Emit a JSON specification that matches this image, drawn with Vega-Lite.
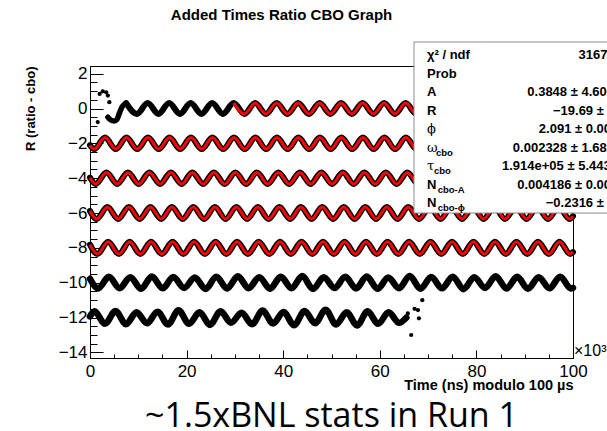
{
  "$schema": "https://vega.github.io/schema/vega-lite/v6.json",
  "width": 483,
  "height": 292,
  "autosize": "none",
  "padding": {"left": 90, "top": 66, "right": 34, "bottom": 73},
  "background": "white",
  "config": {
    "font": "Liberation Sans",
    "view": {"stroke": "black", "strokeWidth": 1},
    "axis": {"grid": false, "domainColor": "black", "tickColor": "black", "labelColor": "black", "titleColor": "black", "labelFont": "Liberation Sans", "titleFont": "Liberation Sans", "labelFontSize": 17, "domainWidth": 1, "tickWidth": 1}
  },
  "title": {"text": "Added Times Ratio CBO Graph", "font": "Liberation Sans", "fontSize": 15, "fontWeight": "bold", "color": "black", "anchor": "middle", "frame": "group", "baseline": "alphabetic", "offset": 7, "dx": -50},
  "datasets": {
    "fit": [
      {"s": "r0", "x": 7.49, "y": 0.31}, {"s": "r0", "x": 9.72, "y": -0.31}, {"s": "r0", "x": 11.94, "y": 0.31}, {"s": "r0", "x": 14.17, "y": -0.31},
      {"s": "r0", "x": 16.39, "y": 0.31}, {"s": "r0", "x": 18.62, "y": -0.31}, {"s": "r0", "x": 20.84, "y": 0.31}, {"s": "r0", "x": 23.07, "y": -0.31},
      {"s": "r0", "x": 25.29, "y": 0.31}, {"s": "r0", "x": 27.52, "y": -0.31}, {"s": "r0", "x": 29.74, "y": 0.31}, {"s": "r0", "x": 31.97, "y": -0.31},
      {"s": "r0", "x": 34.19, "y": 0.31}, {"s": "r0", "x": 36.42, "y": -0.31}, {"s": "r0", "x": 38.64, "y": 0.31}, {"s": "r0", "x": 40.87, "y": -0.31},
      {"s": "r0", "x": 43.09, "y": 0.31}, {"s": "r0", "x": 45.32, "y": -0.31}, {"s": "r0", "x": 47.54, "y": 0.31}, {"s": "r0", "x": 49.77, "y": -0.31},
      {"s": "r0", "x": 51.99, "y": 0.31}, {"s": "r0", "x": 54.22, "y": -0.31}, {"s": "r0", "x": 56.44, "y": 0.31}, {"s": "r0", "x": 58.67, "y": -0.31},
      {"s": "r0", "x": 60.89, "y": 0.31}, {"s": "r0", "x": 63.12, "y": -0.31}, {"s": "r0", "x": 65.34, "y": 0.31}, {"s": "r0", "x": 67.57, "y": -0.31},
      {"s": "r0", "x": 69.79, "y": 0.31}, {"s": "r0", "x": 72.02, "y": -0.31}, {"s": "r0", "x": 74.24, "y": 0.31}, {"s": "r0", "x": 76.47, "y": -0.31},
      {"s": "r0", "x": 78.69, "y": 0.31}, {"s": "r0", "x": 80.92, "y": -0.31}, {"s": "r0", "x": 83.14, "y": 0.31}, {"s": "r0", "x": 85.37, "y": -0.31},
      {"s": "r0", "x": 87.59, "y": 0.31}, {"s": "r0", "x": 89.82, "y": -0.31}, {"s": "r0", "x": 92.04, "y": 0.31}, {"s": "r0", "x": 94.27, "y": -0.31},
      {"s": "r0", "x": 96.49, "y": 0.31}, {"s": "r0", "x": 98.72, "y": -0.31}, {"s": "r0", "x": 100, "y": 0.07},

      {"s": "r2", "x": 0, "y": -2.11}, {"s": "r2", "x": 0.88, "y": -2.33}, {"s": "r2", "x": 3.1, "y": -1.67}, {"s": "r2", "x": 5.33, "y": -2.33},
      {"s": "r2", "x": 7.55, "y": -1.67}, {"s": "r2", "x": 9.78, "y": -2.33}, {"s": "r2", "x": 12.0, "y": -1.67}, {"s": "r2", "x": 14.23, "y": -2.33},
      {"s": "r2", "x": 16.45, "y": -1.67}, {"s": "r2", "x": 18.68, "y": -2.33}, {"s": "r2", "x": 20.9, "y": -1.67}, {"s": "r2", "x": 23.13, "y": -2.33},
      {"s": "r2", "x": 25.35, "y": -1.67}, {"s": "r2", "x": 27.58, "y": -2.33}, {"s": "r2", "x": 29.8, "y": -1.67}, {"s": "r2", "x": 32.03, "y": -2.33},
      {"s": "r2", "x": 34.25, "y": -1.67}, {"s": "r2", "x": 36.48, "y": -2.33}, {"s": "r2", "x": 38.7, "y": -1.67}, {"s": "r2", "x": 40.93, "y": -2.33},
      {"s": "r2", "x": 43.15, "y": -1.67}, {"s": "r2", "x": 45.38, "y": -2.33}, {"s": "r2", "x": 47.6, "y": -1.67}, {"s": "r2", "x": 49.83, "y": -2.33},
      {"s": "r2", "x": 52.05, "y": -1.67}, {"s": "r2", "x": 54.28, "y": -2.33}, {"s": "r2", "x": 56.5, "y": -1.67}, {"s": "r2", "x": 58.73, "y": -2.33},
      {"s": "r2", "x": 60.95, "y": -1.67}, {"s": "r2", "x": 63.18, "y": -2.33}, {"s": "r2", "x": 65.4, "y": -1.67}, {"s": "r2", "x": 67.63, "y": -2.33},
      {"s": "r2", "x": 69.85, "y": -1.67}, {"s": "r2", "x": 72.08, "y": -2.33}, {"s": "r2", "x": 74.3, "y": -1.67}, {"s": "r2", "x": 76.53, "y": -2.33},
      {"s": "r2", "x": 78.75, "y": -1.67}, {"s": "r2", "x": 80.98, "y": -2.33}, {"s": "r2", "x": 83.2, "y": -1.67}, {"s": "r2", "x": 85.43, "y": -2.33},
      {"s": "r2", "x": 87.65, "y": -1.67}, {"s": "r2", "x": 89.88, "y": -2.33}, {"s": "r2", "x": 92.1, "y": -1.67}, {"s": "r2", "x": 94.33, "y": -2.33},
      {"s": "r2", "x": 96.55, "y": -1.67}, {"s": "r2", "x": 98.78, "y": -2.33}, {"s": "r2", "x": 100, "y": -1.95},

      {"s": "r4", "x": 0, "y": -3.97}, {"s": "r4", "x": 1.18, "y": -4.33}, {"s": "r4", "x": 3.4, "y": -3.67}, {"s": "r4", "x": 5.63, "y": -4.33},
      {"s": "r4", "x": 7.85, "y": -3.67}, {"s": "r4", "x": 10.08, "y": -4.33}, {"s": "r4", "x": 12.3, "y": -3.67}, {"s": "r4", "x": 14.53, "y": -4.33},
      {"s": "r4", "x": 16.75, "y": -3.67}, {"s": "r4", "x": 18.98, "y": -4.33}, {"s": "r4", "x": 21.2, "y": -3.67}, {"s": "r4", "x": 23.43, "y": -4.33},
      {"s": "r4", "x": 25.65, "y": -3.67}, {"s": "r4", "x": 27.88, "y": -4.33}, {"s": "r4", "x": 30.1, "y": -3.67}, {"s": "r4", "x": 32.33, "y": -4.33},
      {"s": "r4", "x": 34.55, "y": -3.67}, {"s": "r4", "x": 36.78, "y": -4.33}, {"s": "r4", "x": 39.0, "y": -3.67}, {"s": "r4", "x": 41.23, "y": -4.33},
      {"s": "r4", "x": 43.45, "y": -3.67}, {"s": "r4", "x": 45.68, "y": -4.33}, {"s": "r4", "x": 47.9, "y": -3.67}, {"s": "r4", "x": 50.13, "y": -4.33},
      {"s": "r4", "x": 52.35, "y": -3.67}, {"s": "r4", "x": 54.58, "y": -4.33}, {"s": "r4", "x": 56.8, "y": -3.67}, {"s": "r4", "x": 59.03, "y": -4.33},
      {"s": "r4", "x": 61.25, "y": -3.67}, {"s": "r4", "x": 63.48, "y": -4.33}, {"s": "r4", "x": 65.7, "y": -3.67}, {"s": "r4", "x": 67.93, "y": -4.33},
      {"s": "r4", "x": 70.15, "y": -3.67}, {"s": "r4", "x": 72.38, "y": -4.33}, {"s": "r4", "x": 74.6, "y": -3.67}, {"s": "r4", "x": 76.83, "y": -4.33},
      {"s": "r4", "x": 79.05, "y": -3.67}, {"s": "r4", "x": 81.28, "y": -4.33}, {"s": "r4", "x": 83.5, "y": -3.67}, {"s": "r4", "x": 85.73, "y": -4.33},
      {"s": "r4", "x": 87.95, "y": -3.67}, {"s": "r4", "x": 90.18, "y": -4.33}, {"s": "r4", "x": 92.4, "y": -3.67}, {"s": "r4", "x": 94.63, "y": -4.33},
      {"s": "r4", "x": 96.85, "y": -3.67}, {"s": "r4", "x": 99.08, "y": -4.33}, {"s": "r4", "x": 100, "y": -4.09},

      {"s": "r6", "x": 0, "y": -5.88}, {"s": "r6", "x": 1.38, "y": -6.34}, {"s": "r6", "x": 3.6, "y": -5.66}, {"s": "r6", "x": 5.83, "y": -6.34},
      {"s": "r6", "x": 8.05, "y": -5.66}, {"s": "r6", "x": 10.28, "y": -6.34}, {"s": "r6", "x": 12.5, "y": -5.66}, {"s": "r6", "x": 14.73, "y": -6.34},
      {"s": "r6", "x": 16.95, "y": -5.66}, {"s": "r6", "x": 19.18, "y": -6.34}, {"s": "r6", "x": 21.4, "y": -5.66}, {"s": "r6", "x": 23.63, "y": -6.34},
      {"s": "r6", "x": 25.85, "y": -5.66}, {"s": "r6", "x": 28.08, "y": -6.34}, {"s": "r6", "x": 30.3, "y": -5.66}, {"s": "r6", "x": 32.53, "y": -6.34},
      {"s": "r6", "x": 34.75, "y": -5.66}, {"s": "r6", "x": 36.98, "y": -6.34}, {"s": "r6", "x": 39.2, "y": -5.66}, {"s": "r6", "x": 41.43, "y": -6.34},
      {"s": "r6", "x": 43.65, "y": -5.66}, {"s": "r6", "x": 45.88, "y": -6.34}, {"s": "r6", "x": 48.1, "y": -5.66}, {"s": "r6", "x": 50.33, "y": -6.34},
      {"s": "r6", "x": 52.55, "y": -5.66}, {"s": "r6", "x": 54.78, "y": -6.34}, {"s": "r6", "x": 57.0, "y": -5.66}, {"s": "r6", "x": 59.23, "y": -6.34},
      {"s": "r6", "x": 61.45, "y": -5.66}, {"s": "r6", "x": 63.68, "y": -6.34}, {"s": "r6", "x": 65.9, "y": -5.66}, {"s": "r6", "x": 68.13, "y": -6.34},
      {"s": "r6", "x": 70.35, "y": -5.66}, {"s": "r6", "x": 72.58, "y": -6.34}, {"s": "r6", "x": 74.8, "y": -5.66}, {"s": "r6", "x": 77.03, "y": -6.34},
      {"s": "r6", "x": 79.25, "y": -5.66}, {"s": "r6", "x": 81.48, "y": -6.34}, {"s": "r6", "x": 83.7, "y": -5.66}, {"s": "r6", "x": 85.93, "y": -6.34},
      {"s": "r6", "x": 88.15, "y": -5.66}, {"s": "r6", "x": 90.38, "y": -6.34}, {"s": "r6", "x": 92.6, "y": -5.66}, {"s": "r6", "x": 94.83, "y": -6.34},
      {"s": "r6", "x": 97.05, "y": -5.66}, {"s": "r6", "x": 99.28, "y": -6.34}, {"s": "r6", "x": 100, "y": -6.18},

      {"s": "r8", "x": 0, "y": -7.81}, {"s": "r8", "x": 1.53, "y": -8.35}, {"s": "r8", "x": 3.75, "y": -7.65}, {"s": "r8", "x": 5.98, "y": -8.35},
      {"s": "r8", "x": 8.2, "y": -7.65}, {"s": "r8", "x": 10.43, "y": -8.35}, {"s": "r8", "x": 12.65, "y": -7.65}, {"s": "r8", "x": 14.88, "y": -8.35},
      {"s": "r8", "x": 17.1, "y": -7.65}, {"s": "r8", "x": 19.33, "y": -8.35}, {"s": "r8", "x": 21.55, "y": -7.65}, {"s": "r8", "x": 23.78, "y": -8.35},
      {"s": "r8", "x": 26.0, "y": -7.65}, {"s": "r8", "x": 28.23, "y": -8.35}, {"s": "r8", "x": 30.45, "y": -7.65}, {"s": "r8", "x": 32.68, "y": -8.35},
      {"s": "r8", "x": 34.9, "y": -7.65}, {"s": "r8", "x": 37.13, "y": -8.35}, {"s": "r8", "x": 39.35, "y": -7.65}, {"s": "r8", "x": 41.58, "y": -8.35},
      {"s": "r8", "x": 43.8, "y": -7.65}, {"s": "r8", "x": 46.03, "y": -8.35}, {"s": "r8", "x": 48.25, "y": -7.65}, {"s": "r8", "x": 50.48, "y": -8.35},
      {"s": "r8", "x": 52.7, "y": -7.65}, {"s": "r8", "x": 54.93, "y": -8.35}, {"s": "r8", "x": 57.15, "y": -7.65}, {"s": "r8", "x": 59.38, "y": -8.35},
      {"s": "r8", "x": 61.6, "y": -7.65}, {"s": "r8", "x": 63.83, "y": -8.35}, {"s": "r8", "x": 66.05, "y": -7.65}, {"s": "r8", "x": 68.28, "y": -8.35},
      {"s": "r8", "x": 70.5, "y": -7.65}, {"s": "r8", "x": 72.73, "y": -8.35}, {"s": "r8", "x": 74.95, "y": -7.65}, {"s": "r8", "x": 77.18, "y": -8.35},
      {"s": "r8", "x": 79.4, "y": -7.65}, {"s": "r8", "x": 81.63, "y": -8.35}, {"s": "r8", "x": 83.85, "y": -7.65}, {"s": "r8", "x": 86.08, "y": -8.35},
      {"s": "r8", "x": 88.3, "y": -7.65}, {"s": "r8", "x": 90.53, "y": -8.35}, {"s": "r8", "x": 92.75, "y": -7.65}, {"s": "r8", "x": 94.98, "y": -8.35},
      {"s": "r8", "x": 97.2, "y": -7.65}, {"s": "r8", "x": 99.43, "y": -8.35}, {"s": "r8", "x": 100, "y": -8.24}
    ],
    "row0early": [
      {"x": 3.7, "y": -0.5}, {"x": 4.3, "y": -0.66}, {"x": 5.0, "y": -0.72}, {"x": 5.6, "y": -0.62},
      {"x": 6.1, "y": -0.25}, {"x": 6.7, "y": 0.12}, {"x": 7.49, "y": 0.31}
    ],
    "b10": [
      {"x": 0, "y": -9.77}, {"x": 1.68, "y": -10.33}, {"x": 3.9, "y": -9.66}, {"x": 6.13, "y": -10.31},
      {"x": 8.35, "y": -9.68}, {"x": 10.58, "y": -10.35}, {"x": 12.8, "y": -9.64}, {"x": 15.03, "y": -10.32},
      {"x": 17.25, "y": -9.67}, {"x": 19.48, "y": -10.3}, {"x": 21.7, "y": -9.7}, {"x": 23.93, "y": -10.36},
      {"x": 26.15, "y": -9.65}, {"x": 28.38, "y": -10.33}, {"x": 30.6, "y": -9.63}, {"x": 32.83, "y": -10.31},
      {"x": 35.05, "y": -9.68}, {"x": 37.28, "y": -10.34}, {"x": 39.5, "y": -9.66}, {"x": 41.73, "y": -10.32},
      {"x": 43.95, "y": -9.62}, {"x": 46.18, "y": -10.36}, {"x": 48.4, "y": -9.69}, {"x": 50.63, "y": -10.3},
      {"x": 52.85, "y": -9.66}, {"x": 55.08, "y": -10.33}, {"x": 57.3, "y": -9.64}, {"x": 59.53, "y": -10.35},
      {"x": 61.75, "y": -9.7}, {"x": 63.98, "y": -10.31}, {"x": 66.2, "y": -9.61}, {"x": 68.43, "y": -10.34},
      {"x": 70.65, "y": -9.67}, {"x": 72.88, "y": -10.32}, {"x": 75.1, "y": -9.65}, {"x": 77.33, "y": -10.37},
      {"x": 79.55, "y": -9.68}, {"x": 81.78, "y": -10.3}, {"x": 84.0, "y": -9.63}, {"x": 86.23, "y": -10.33},
      {"x": 88.45, "y": -9.66}, {"x": 90.68, "y": -10.35}, {"x": 92.9, "y": -9.69}, {"x": 95.13, "y": -10.32},
      {"x": 97.35, "y": -9.65}, {"x": 99.58, "y": -10.33}, {"x": 100, "y": -10.29}
    ],
    "b12": [
      {"x": 0, "y": -11.93}, {"x": 0.93, "y": -11.64}, {"x": 3.1, "y": -12.36}, {"x": 5.28, "y": -11.62},
      {"x": 7.45, "y": -12.38}, {"x": 9.63, "y": -11.7}, {"x": 11.8, "y": -12.33}, {"x": 13.98, "y": -11.66},
      {"x": 16.15, "y": -12.4}, {"x": 18.33, "y": -11.58}, {"x": 20.5, "y": -12.36}, {"x": 22.68, "y": -11.7},
      {"x": 24.85, "y": -12.42}, {"x": 27.03, "y": -11.64}, {"x": 29.2, "y": -12.3}, {"x": 31.38, "y": -11.72},
      {"x": 33.55, "y": -12.38}, {"x": 35.73, "y": -11.6}, {"x": 37.9, "y": -12.34}, {"x": 40.08, "y": -11.68},
      {"x": 42.25, "y": -12.44}, {"x": 44.43, "y": -11.62}, {"x": 46.6, "y": -12.32}, {"x": 48.78, "y": -11.55},
      {"x": 50.95, "y": -12.4}, {"x": 53.13, "y": -11.7}, {"x": 55.3, "y": -12.45}, {"x": 57.48, "y": -11.64},
      {"x": 59.65, "y": -12.36}, {"x": 61.83, "y": -11.7}, {"x": 64.0, "y": -12.3}, {"x": 65.5, "y": -12.0}
    ],
    "dots": [
      {"x": 1.6, "y": -0.78}, {"x": 2.0, "y": 0.84}, {"x": 2.65, "y": 0.99}, {"x": 3.35, "y": 0.93},
      {"x": 3.7, "y": 0.74}, {"x": 4.0, "y": 0.36},
      {"x": 66.5, "y": -13.0}, {"x": 68.8, "y": -11.0}, {"x": 67.9, "y": -11.57}, {"x": 68.1, "y": -12.04},
      {"x": 65.8, "y": -11.76}, {"x": 67.2, "y": -11.5}
    ],
    "stats": [
      {"r": 1, "lab": "χ² / ndf", "g": 0, "sub": "", "val": "3167 / 994"},
      {"r": 2, "lab": "Prob", "g": 0, "sub": "", "val": "0"},
      {"r": 3, "lab": "A", "g": 0, "sub": "", "val": "0.3848 ± 4.606e-05"},
      {"r": 4, "lab": "R", "g": 0, "sub": "", "val": "−19.69 ± 0.012"},
      {"r": 5, "lab": "ϕ", "g": 1, "sub": "", "val": "2.091 ± 0.003104"},
      {"r": 6, "lab": "ω", "g": 1, "sub": "cbo", "val": "0.002328 ± 1.682e-06"},
      {"r": 7, "lab": "τ", "g": 1, "sub": "cbo", "val": "1.914e+05 ± 5.443e+02"},
      {"r": 8, "lab": "N", "g": 0, "sub": "cbo-A", "val": "0.004186 ± 0.000235"},
      {"r": 9, "lab": "N", "g": 0, "sub": "cbo-ϕ", "val": "−0.2316 ± 0.044"}
    ]
  },
  "layer": [
    {
      "layer": [
        {
          "data": {"name": "fit"},
          "mark": {"type": "line", "color": "black", "strokeWidth": 6, "interpolate": "monotone", "strokeCap": "round"},
          "encoding": {
            "x": {"field": "x", "type": "quantitative", "scale": {"domain": [0, 100], "nice": false},
              "axis": {"orient": "bottom", "values": [0, 20, 40, 60, 80, 100], "tickSize": -8, "labelPadding": 13, "labelFontSize": 17, "labelFlush": false,
                "title": "Time (ns) modulo 100 µs", "titleFontSize": 14.5, "titleFontWeight": "bold", "titleAlign": "right", "titleBaseline": "alphabetic", "titleX": 483, "titleY": 31}},
            "y": {"field": "y", "type": "quantitative", "scale": {"domain": [-14.32, 2.44], "nice": false, "zero": false},
              "axis": {"orient": "left", "values": [-14, -12, -10, -8, -6, -4, -2, 0, 2], "tickSize": -13, "labelPadding": 16, "labelFontSize": 17, "labelFlush": false,
                "title": "R (ratio - cbo)", "titleFontSize": 13, "titleFontWeight": "bold", "titleAngle": -90, "titleAlign": "right", "titleBaseline": "middle", "titleX": -60, "titleY": 0}},
            "detail": {"field": "s"}
          }
        },
        {
          "data": {"name": "fit"},
          "mark": {"type": "point", "opacity": 0},
          "encoding": {
            "x": {"field": "x", "type": "quantitative", "scale": {"domain": [0, 100], "nice": false},
              "axis": {"orient": "bottom", "values": [5, 10, 15, 25, 30, 35, 45, 50, 55, 65, 70, 75, 85, 90, 95], "tickSize": -4, "labels": false, "domain": false, "title": null}},
            "y": {"field": "y", "type": "quantitative", "scale": {"domain": [-14.32, 2.44], "nice": false, "zero": false},
              "axis": {"orient": "left", "values": [-13.5, -13, -12.5, -11.5, -11, -10.5, -9.5, -9, -8.5, -7.5, -7, -6.5, -5.5, -5, -4.5, -3.5, -3, -2.5, -1.5, -1, -0.5, 0.5, 1, 1.5], "tickSize": -7, "labels": false, "domain": false, "title": null}}
          }
        },
        {
          "data": {"name": "row0early"},
          "mark": {"type": "line", "color": "black", "strokeWidth": 5.5, "interpolate": "monotone", "strokeCap": "round"},
          "encoding": {
            "x": {"field": "x", "type": "quantitative", "scale": {"domain": [0, 100], "nice": false}, "axis": null},
            "y": {"field": "y", "type": "quantitative", "scale": {"domain": [-14.32, 2.44], "nice": false, "zero": false}, "axis": null}
          }
        },
        {
          "data": {"name": "b10"},
          "mark": {"type": "line", "color": "black", "strokeWidth": 6.5, "interpolate": "monotone", "strokeCap": "round"},
          "encoding": {
            "x": {"field": "x", "type": "quantitative", "scale": {"domain": [0, 100], "nice": false}, "axis": null},
            "y": {"field": "y", "type": "quantitative", "scale": {"domain": [-14.32, 2.44], "nice": false, "zero": false}, "axis": null}
          }
        },
        {
          "data": {"name": "b12"},
          "mark": {"type": "line", "color": "black", "strokeWidth": 6.5, "interpolate": "monotone", "strokeCap": "round"},
          "encoding": {
            "x": {"field": "x", "type": "quantitative", "scale": {"domain": [0, 100], "nice": false}, "axis": null},
            "y": {"field": "y", "type": "quantitative", "scale": {"domain": [-14.32, 2.44], "nice": false, "zero": false}, "axis": null}
          }
        },
        {
          "data": {"name": "dots"},
          "mark": {"type": "point", "filled": true, "color": "black", "size": 18, "opacity": 1},
          "encoding": {
            "x": {"field": "x", "type": "quantitative", "scale": {"domain": [0, 100], "nice": false}, "axis": null},
            "y": {"field": "y", "type": "quantitative", "scale": {"domain": [-14.32, 2.44], "nice": false, "zero": false}, "axis": null}
          }
        },
        {
          "data": {"name": "fit"},
          "transform": [{"filter": "datum.s != 'r0' || datum.x >= 29.7"}],
          "mark": {"type": "line", "color": "#ff0000", "strokeWidth": 3, "interpolate": "monotone"},
          "encoding": {
            "x": {"field": "x", "type": "quantitative", "scale": {"domain": [0, 100], "nice": false}, "axis": null},
            "y": {"field": "y", "type": "quantitative", "scale": {"domain": [-14.32, 2.44], "nice": false, "zero": false}, "axis": null},
            "detail": {"field": "s"}
          }
        },
        {
          "data": {"values": [{"box": "stats"}]},
          "mark": {"type": "rect", "fill": "white", "stroke": "#8a8a8a", "strokeWidth": 1},
          "encoding": {
            "x": {"datum": 67.08, "type": "quantitative", "scale": {"domain": [0, 100], "nice": false}, "axis": null},
            "x2": {"datum": 130},
            "y": {"datum": 3.817, "type": "quantitative", "scale": {"domain": [-14.32, 2.44], "nice": false, "zero": false}, "axis": null},
            "y2": {"datum": -6.0}
          }
        },
        {
          "data": {"values": [{"t": "~1.5xBNL stats in Run 1"}]},
          "mark": {"type": "text", "font": "Open Sans", "fontSize": 34, "align": "center", "baseline": "alphabetic", "color": "black"},
          "encoding": {
            "x": {"datum": 50, "type": "quantitative", "scale": {"domain": [0, 100], "nice": false}, "axis": null},
            "y": {"datum": -18.28, "type": "quantitative", "scale": {"domain": [-14.32, 2.44], "nice": false, "zero": false}, "axis": null},
            "text": {"field": "t"}
          }
        },
        {
          "data": {"values": [{"t": "×10³"}]},
          "mark": {"type": "text", "font": "Liberation Sans", "fontSize": 16, "align": "left", "baseline": "alphabetic", "dx": 1, "dy": -2, "color": "black"},
          "encoding": {
            "x": {"datum": 100, "type": "quantitative", "scale": {"domain": [0, 100], "nice": false}, "axis": null},
            "y": {"datum": -14.32, "type": "quantitative", "scale": {"domain": [-14.32, 2.44], "nice": false, "zero": false}, "axis": null},
            "text": {"field": "t"}
          }
        }
      ],
      "resolve": {"axis": {"x": "independent", "y": "independent"}}
    },
    {
      "data": {"name": "stats"},
      "encoding": {
        "y": {"field": "r", "type": "quantitative", "scale": {"domain": [1.593, 17.343], "reverse": true, "zero": false, "nice": false}, "axis": null}
      },
      "layer": [
        {
          "transform": [{"filter": "datum.g != 1"}],
          "mark": {"type": "text", "font": "Liberation Sans", "fontWeight": "bold", "fontSize": 13, "align": "left", "baseline": "middle", "color": "black"},
          "encoding": {
            "x": {"datum": 69.77, "type": "quantitative", "scale": {"domain": [0, 100], "nice": false}, "axis": null},
            "text": {"field": "lab"}
          }
        },
        {
          "transform": [{"filter": "datum.g == 1"}],
          "mark": {"type": "text", "font": "DejaVu Serif", "fontSize": 13, "align": "left", "baseline": "middle", "color": "black"},
          "encoding": {
            "x": {"datum": 69.77, "type": "quantitative", "scale": {"domain": [0, 100], "nice": false}, "axis": null},
            "text": {"field": "lab"}
          }
        },
        {
          "transform": [{"filter": "datum.r == 6"}],
          "mark": {"type": "text", "font": "Liberation Sans", "fontWeight": "bold", "fontSize": 9.5, "align": "left", "baseline": "middle", "dx": 9, "dy": 5, "color": "black"},
          "encoding": {
            "x": {"datum": 69.77, "type": "quantitative", "scale": {"domain": [0, 100], "nice": false}, "axis": null},
            "text": {"field": "sub"}
          }
        },
        {
          "transform": [{"filter": "datum.r == 7"}],
          "mark": {"type": "text", "font": "Liberation Sans", "fontWeight": "bold", "fontSize": 9.5, "align": "left", "baseline": "middle", "dx": 7, "dy": 5, "color": "black"},
          "encoding": {
            "x": {"datum": 69.77, "type": "quantitative", "scale": {"domain": [0, 100], "nice": false}, "axis": null},
            "text": {"field": "sub"}
          }
        },
        {
          "transform": [{"filter": "datum.r >= 8"}],
          "mark": {"type": "text", "font": "Liberation Sans", "fontWeight": "bold", "fontSize": 9.5, "align": "left", "baseline": "middle", "dx": 10.7, "dy": 5, "color": "black"},
          "encoding": {
            "x": {"datum": 69.77, "type": "quantitative", "scale": {"domain": [0, 100], "nice": false}, "axis": null},
            "text": {"field": "sub"}
          }
        },
        {
          "mark": {"type": "text", "font": "Liberation Sans", "fontWeight": "bold", "fontSize": 13, "align": "right", "baseline": "middle", "color": "black"},
          "encoding": {
            "x": {"datum": 113.87, "type": "quantitative", "scale": {"domain": [0, 100], "nice": false}, "axis": null},
            "text": {"field": "val"}
          }
        }
      ]
    }
  ],
  "resolve": {"scale": {"y": "independent"}, "axis": {"x": "independent", "y": "independent"}}
}
